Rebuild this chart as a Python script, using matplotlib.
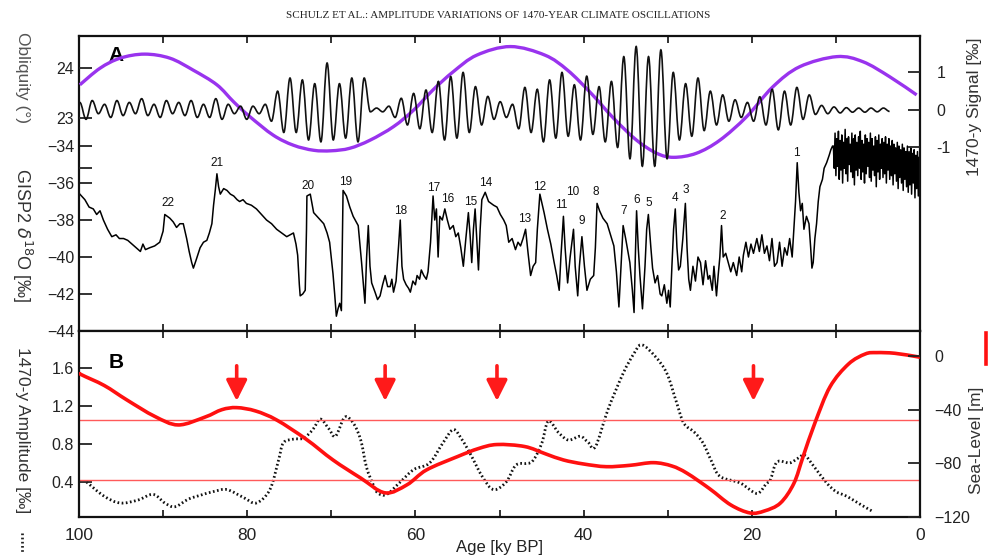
import numpy as np
import matplotlib
matplotlib.use("Agg")
import matplotlib.pyplot as plt
from matplotlib.path import Path
from matplotlib.patches import PathPatch

plt.rcParams['font.family'] = ['Liberation Sans', 'DejaVu Sans']

# ---------------- data ----------------
# Obliquity (deg)
obl_age = [99.9, 97.5, 95.1, 92.2, 89.2, 86.4, 83.6, 81.6, 79.7, 76.9, 74.5, 72.1, 70.0, 67.8,
           65.4, 62.6, 60.2, 57.9, 55.5, 52.7, 48.7, 44.6, 41.9, 39.1, 36.4, 33.7, 31.3,
           29.3, 26.6, 23.8, 20.6, 17.5, 14.3, 9.9, 6.8, 3.6, 0.4]
obl_val = [23.66, 23.99, 24.19, 24.27, 24.19, 23.95, 23.66, 23.32, 23.03, 22.66, 22.46, 22.36,
           22.35, 22.40, 22.56, 22.83, 23.16, 23.56, 23.92, 24.25, 24.42, 24.25, 23.95,
           23.49, 22.99, 22.56, 22.30, 22.22, 22.30, 22.56, 23.03, 23.62, 24.02, 24.22, 24.12,
           23.82, 23.46]

# 1470-y signal: successive extrema (permil), one every half cycle (0.735 ky) from 99.9 ky BP
sig_start = 99.9
sig_step = 0.735
sig_extrema = [
    0.2, -0.25, 0.25, -0.1, 0.15, -0.2, 0.25, -0.15, 0.2, -0.1, 0.3, -0.15, 0.15, -0.2, 0.25,
    -0.1, 0.2, -0.15, 0.25, -0.2, 0.15, -0.2, 0.3, -0.25, 0.15, -0.1, 0.1, -0.25, 0.1, -0.1, 0.15,
    -0.3, 0.5, -0.6, 0.85, -0.6, 0.8, -0.8, 0.7, -0.85, 1.25, -0.8, 0.7, -0.75, 0.85, -0.85, 0.85,
    -0.05, 0.05, -0.05, 0.1,
    -0.2, 0.31, -0.4, 0.44, -0.5, 0.53, -0.6, 0.76, -0.8, 0.89, -0.75, 1.0,
    -0.6, 0.62, -0.4, 0.36, -0.25, 0.22, -0.2, 0.15,
    -0.5, 0.6, -0.6, 0.55, -0.85, 0.8, -0.75, 1.0, -0.7, 0.67, -0.8, 0.9, -0.65, 0.62, -0.85, 0.76,
    -1.0, 1.42, -1.3, 1.69, -1.5, 1.42, -1.5, 1.6, -1.3, 1.0,
    -0.8, 0.7, -0.7, 0.85, -0.55, 0.5, -0.4, 0.4, -0.3, 0.27, -0.2, 0.2, -0.3, 0.35, -0.4, 0.55,
    -0.53, 0.5, -0.4, 0.6, -0.25, 0.4,
    -0.12, 0.12, -0.1, 0.08, -0.08, 0.06, -0.06, 0.05, -0.06, 0.05, -0.05, 0.05, -0.04]

# GISP2 d18O (permil), 100 - 10.4 ky BP
gisp_age = [99.9, 99.3, 98.8, 98.3, 97.9, 97.5, 97.1, 96.6, 96.1, 95.6, 95.2, 94.7, 94.2, 93.7, 93.2,
            92.7, 92.4, 92.1, 91.6, 91.0, 90.4, 90.0, 89.8, 89.5, 89.2, 88.8, 88.4, 88.0, 87.6, 87.4,
            87.2, 86.9, 86.6, 86.4, 86.1, 85.6, 85.2, 84.8, 84.5, 84.2, 84.0, 83.8, 83.6, 83.4, 83.2,
            82.8, 82.4, 82.0, 81.6, 81.2, 80.9, 80.5, 80.1, 79.5, 78.9, 78.3, 77.7, 77.1, 76.5, 75.9,
            75.3, 74.9, 74.5, 74.2, 74.0, 73.8, 73.7, 73.4, 73.1, 72.95, 72.9, 72.5, 72.1, 71.5, 70.9,
            70.5, 70.2, 69.8, 69.6, 69.4, 69.2, 69.0, 68.8, 68.65, 68.6, 68.2, 67.8, 67.4, 66.8, 66.4,
            66.0, 65.8, 65.6, 65.4, 65.2, 64.8, 64.5, 64.2, 63.9, 63.6, 63.3, 63.0, 62.8, 62.6, 62.3,
            62.0, 61.8, 61.6, 61.4, 61.1, 60.8, 60.6, 60.3, 60.0, 59.8, 59.5, 59.3, 59.0, 58.7, 58.5,
            58.2, 58.0, 57.9, 57.7, 57.5, 57.3, 57.1, 56.8, 56.5, 56.2, 55.9, 55.5, 55.2, 54.9, 54.6,
            54.3, 54.0, 53.7, 53.5, 53.3, 53.1, 52.9, 52.7, 52.5, 52.3, 52.1, 51.9, 51.7, 51.3, 50.7,
            50.3, 49.9, 49.5, 49.2, 48.9, 48.5, 48.1, 47.8, 47.5, 47.2, 46.9, 46.6, 46.3, 46.0, 45.7,
            45.5, 45.2, 45.0, 44.7, 44.3, 43.9, 43.5, 43.2, 42.9, 42.7, 42.4, 42.2, 41.9, 41.6, 41.2,
            41.0, 40.7, 40.5, 40.2, 39.9, 39.6, 39.2, 38.8, 38.6, 38.4, 38.1, 37.7, 37.2, 36.8, 36.4,
            36.1, 35.8, 35.5, 35.3, 35.0, 34.7, 34.5, 34.2, 34.0, 33.85, 33.7, 33.5, 33.3, 33.0, 32.7,
            32.5, 32.3, 32.0, 31.8, 31.5, 31.2, 30.9, 30.7, 30.4, 30.1, 29.9, 29.7, 29.5, 29.3, 29.1,
            28.9, 28.7, 28.5, 28.2, 27.9, 27.7, 27.5, 27.3, 27.0, 26.7, 26.4, 26.1, 25.8, 25.5, 25.2,
            25.0, 24.7, 24.5, 24.2, 24.0, 23.8, 23.6, 23.4, 23.1, 22.8, 22.5, 22.2, 21.8, 21.5, 21.2,
            21.0, 20.7, 20.4, 20.1, 19.8, 19.4, 19.1, 18.8, 18.5, 18.2, 17.9, 17.6, 17.3, 17.0, 16.7,
            16.4, 16.1, 15.8, 15.5, 15.2, 15.0, 14.8, 14.6, 14.4, 14.2, 14.0, 13.8, 13.5, 13.2, 13.0,
            12.85, 12.7, 12.5, 12.3, 12.1, 11.9, 11.6, 11.4, 11.1, 10.8, 10.6, 10.4]
gisp_val = [-36.6, -36.9, -37.3, -37.4, -37.7, -37.5, -38.0, -38.5, -38.9, -38.8, -39.0, -39.0, -39.1,
            -39.3, -39.5, -39.7, -39.3, -39.6, -39.5, -39.4, -39.2, -38.6, -37.7, -37.8, -37.9, -38.1,
            -38.4, -38.2, -38.2, -38.6, -39.0, -39.7, -40.3, -40.6, -40.2, -39.5, -39.2, -39.1, -38.7,
            -38.2, -37.2, -36.4, -35.5, -36.2, -36.6, -36.3, -36.4, -36.6, -36.7, -36.9, -37.0, -36.9,
            -37.1, -37.2, -37.4, -37.7, -38.0, -38.2, -38.5, -38.7, -38.9, -38.8, -38.7, -39.3, -39.9,
            -41.5, -42.1, -42.0, -41.8, -38.5, -36.7, -36.6, -37.6, -37.9, -38.2, -38.7, -39.2, -40.9,
            -42.0, -43.2, -42.8, -42.5, -42.9, -38.0, -36.4, -36.7, -37.3, -37.8, -38.3, -40.3, -42.5,
            -40.0, -38.3, -40.5, -41.4, -41.9, -42.3, -42.1, -41.5, -41.0, -41.6, -41.6, -41.2, -41.9,
            -41.3, -39.4, -38.0, -40.5, -41.2, -41.5, -41.7, -41.9, -41.3, -41.5, -41.0, -41.2, -40.7,
            -41.0, -41.2, -40.8, -39.2, -37.5, -36.7, -38.0, -37.4, -40.0, -37.8, -38.0, -37.4, -38.0,
            -38.5, -38.3, -38.9, -38.7, -39.5, -40.5, -39.0, -37.6, -38.8, -40.3, -38.5, -37.4, -39.0,
            -40.7, -38.5, -36.9, -36.7, -36.5, -37.0, -37.2, -37.3, -37.7, -38.0, -38.3, -39.2, -39.0,
            -39.6, -39.2, -39.4, -39.0, -38.5, -39.8, -41.0, -40.5, -40.3, -38.5, -36.6, -37.0, -37.6,
            -38.5, -39.3, -40.3, -41.0, -41.8, -40.0, -37.8, -39.5, -41.4, -40.0, -38.5, -40.5, -42.1,
            -40.5, -38.9, -40.5, -41.8, -41.2, -41.0, -39.5, -37.1, -37.5, -37.9, -38.2, -38.8, -39.4,
            -40.8, -42.7, -40.0, -38.3, -39.0, -39.8, -40.3, -41.8, -43.0, -40.0, -37.5, -39.5, -41.0,
            -42.8, -40.5, -38.5, -37.7, -39.5, -40.6, -41.4, -41.0, -42.0, -42.1, -41.5, -42.5, -41.8,
            -42.7, -40.5, -38.5, -37.4, -39.5, -40.7, -40.5, -39.0, -37.1, -39.5, -41.2, -41.8, -40.5,
            -41.3, -40.0, -40.3, -41.5, -40.2, -41.2, -41.0, -41.8, -40.5, -42.1, -41.0, -40.0, -38.3,
            -40.0, -39.8, -40.3, -40.8, -40.3, -41.0, -40.0, -40.8, -39.9, -39.2, -40.0, -39.3, -39.8,
            -39.0, -39.7, -38.8, -39.8, -39.4, -40.2, -39.0, -40.5, -40.3, -39.2, -40.5, -39.5, -39.9,
            -39.0, -40.0, -38.5, -37.0, -34.9, -36.5, -37.5, -37.1, -38.5, -37.8, -38.2, -39.5, -40.6,
            -40.3, -39.0, -38.2, -37.0, -36.2, -35.8, -35.2, -34.9, -34.5, -34.2, -34.0]

# GISP2 Holocene part: one value every 0.1 ky from 10.3 ky BP to 0
holo_start = 10.3
holo_step = 0.1
holo_val = [-34.0, -35.2, -33.3, -35.6, -33.6, -35.1, -33.2, -35.8, -33.7, -35.3,
            -33.4, -36.0, -33.8, -35.2, -33.1, -35.5, -33.6, -35.9, -33.5, -35.0,
            -33.9, -35.4, -33.3, -35.7, -33.6, -36.1, -33.4, -35.3, -33.8, -35.6,
            -33.5, -35.2, -33.2, -35.8, -33.7, -35.4, -33.9, -36.0, -33.4, -35.5,
            -33.6, -35.1, -33.8, -35.7, -33.3, -35.9, -33.6, -35.3, -34.0, -35.6,
            -33.5, -36.2, -33.7, -35.4, -33.4, -35.8, -33.9, -35.2, -33.6, -35.7,
            -33.8, -35.5, -33.5, -36.0, -33.9, -35.3, -33.6, -35.8, -34.0, -35.6,
            -33.7, -36.1, -33.9, -35.5, -34.1, -35.9, -33.8, -36.3, -34.0, -35.7,
            -34.2, -36.0, -33.9, -36.4, -34.1, -35.8, -34.3, -36.2, -34.0, -36.5,
            -34.3, -36.1, -34.1, -36.6, -34.4, -36.0, -34.2, -36.8, -34.5, -36.3,
            -34.3, -36.7, -34.6, -36.2]

# Interstadial numbers
is_labels = ['22', '21', '20', '19', '18', '17', '16', '15', '14', '13', '12', '11', '10', '9',
             '8', '7', '6', '5', '4', '3', '2', '1']
is_age = [89.4, 83.6, 72.8, 68.25, 61.7, 57.8, 56.2, 53.4, 51.6, 47.0, 45.2, 42.7, 41.3, 40.2,
          38.5, 35.2, 33.65, 32.2, 29.1, 27.8, 23.5, 14.7]
is_val = [-37.08, -34.92, -36.16, -35.95, -37.5, -36.27, -36.86, -37.03, -36.0, -37.95, -36.2,
          -37.2, -36.5, -38.05, -36.5, -37.5, -36.9, -37.1, -36.8, -36.4, -37.8, -34.4]

# Panel B: 1470-y amplitude (dotted) and sea level (red)
amp_age = [99.1, 97.0, 95.1, 93.0, 91.2, 89.8, 88.6, 87.0, 85.6, 84.0, 82.4, 80.5, 78.9, 77.3,
           76.3, 75.7, 74.5, 73.3, 72.2, 71.3, 70.3, 69.5, 68.4, 67.4, 66.5, 65.8, 64.9, 64.4,
           63.4, 61.8, 60.2, 58.3, 56.8, 55.5, 54.5, 53.5, 52.0, 50.7, 49.2, 48.0, 46.2, 45.0,
           44.2, 43.0, 41.8, 40.4, 39.5, 38.6, 37.1, 35.3, 34.0, 33.1, 31.5, 30.1, 29.0, 28.1,
           26.8, 25.8, 24.8, 23.8, 21.4, 19.4, 18.3, 17.8, 17.0, 15.5, 14.5, 13.7, 12.5, 11.1,
           10.0, 8.7, 7.0, 5.6]
amp_val = [0.40, 0.25, 0.18, 0.21, 0.27, 0.18, 0.14, 0.22, 0.26, 0.30, 0.32, 0.24, 0.18, 0.32,
           0.62, 0.81, 0.85, 0.86, 0.95, 1.06, 0.96, 0.88, 1.08, 1.02, 0.84, 0.55, 0.35, 0.28,
           0.27, 0.40, 0.53, 0.60, 0.80, 0.95, 0.85, 0.70, 0.45, 0.32, 0.40, 0.58, 0.61, 0.80,
           1.04, 0.92, 0.84, 0.88, 0.82, 0.77, 1.16, 1.54, 1.75, 1.84, 1.72, 1.54, 1.25, 1.02,
           0.92, 0.81, 0.62, 0.46, 0.39, 0.28, 0.38, 0.42, 0.61, 0.60, 0.65, 0.68, 0.55, 0.39,
           0.30, 0.25, 0.16, 0.09]
sl_age = [100.0, 99.7, 97.0, 94.3, 91.0, 88.2, 85.0, 83.0, 81.25, 79.0, 76.5, 73.0, 69.8, 66.5,
          63.6, 61.0, 58.7, 55.0, 52.5, 50.3, 47.0, 44.5, 42.4, 40.0, 37.3, 34.5, 31.7, 29.5,
          27.7, 25.0, 22.5, 20.2, 18.5, 16.6, 15.0, 13.9, 12.5, 10.7, 8.5, 6.5, 5.15, 3.0, 0.4, 0.0]
sl_val = [-12.0, -14.0, -22.0, -32.8, -45.0, -51.4, -45.5, -40.0, -38.5, -41.0, -47.7, -62.0,
          -77.5, -91.0, -102.0, -96.0, -85.0, -75.0, -69.0, -66.0, -67.5, -73.0, -77.5, -80.5,
          -82.5, -81.5, -79.5, -82.0, -87.4, -99.0, -111.0, -117.0, -115.5, -109.6, -95.0, -75.0,
          -50.0, -23.0, -6.0, 1.5, 2.5, 2.0, -0.5, -1.0]
ref_amp = [1.05, 0.42]
arrow_age = [81.25, 63.6, 50.3, 19.8]


# ---------------- drawing helpers (smooth Bezier paths through the given points) ----------------
def smooth_path(x, y):
    p = np.column_stack([x, y]).astype(float)
    n = len(p)
    verts = [p[0]]
    codes = [Path.MOVETO]
    for i in range(n - 1):
        p0 = p[max(i - 1, 0)]
        p1 = p[i]
        p2 = p[i + 1]
        p3 = p[min(i + 2, n - 1)]
        verts += [p1 + (p2 - p0) / 6.0, p2 - (p3 - p1) / 6.0, p2]
        codes += [Path.CURVE4] * 3
    return Path(verts, codes)


def wave_path(x, y):
    # extrema joined with horizontal tangents (rounded oscillation)
    p = np.column_stack([x, y]).astype(float)
    verts = [p[0]]
    codes = [Path.MOVETO]
    for i in range(len(p) - 1):
        dx = p[i + 1][0] - p[i][0]
        verts += [(p[i][0] + 0.36 * dx, p[i][1]), (p[i + 1][0] - 0.36 * dx, p[i + 1][1]), p[i + 1]]
        codes += [Path.CURVE4] * 3
    return Path(verts, codes)


# ---------------- figure ----------------
W, H = 992, 556
fig = plt.figure(figsize=(W / 100, H / 100), dpi=100)


def fx(px):
    return px / W


def fy(py):
    return 1 - py / H


L, R = 79, 920
axA = fig.add_axes([fx(L), fy(331), fx(R) - fx(L), fy(36) - fy(331)])
axB = fig.add_axes([fx(L), fy(517), fx(R) - fx(L), fy(331) - fy(517)])

tick_col = '#222222'
for ax in (axA, axB):
    ax.set_xlim(100, 0)
    for s in ax.spines.values():
        s.set_linewidth(1.6)
        s.set_color('#111111')
    ax.set_xticks(np.arange(100, -1, -10))
    ax.tick_params(axis='x', direction='in', top=True, bottom=True, length=5, width=1.3,
                   labelsize=12.5, colors=tick_col, pad=8)
    ax.tick_params(axis='y', direction='in', length=9, width=1.3, labelsize=11.5,
                   colors=tick_col)

axA.set_xticklabels([])
axB.set_xticklabels(['100', '', '80', '', '60', '', '40', '', '20', '', '0'])

# Panel A: GISP2 (left lower scale)
axA.set_ylim(-44, -28.05)
axA.set_yticks([-34, -36, -38, -40, -42, -44])
holo_age = holo_start - holo_step * np.arange(len(holo_val))
axA.plot(list(gisp_age) + list(holo_age), list(gisp_val) + list(holo_val),
         color='black', lw=1.1)
for lab, a, v in zip(is_labels, is_age, is_val):
    axA.text(a, v, lab, fontsize=8.5, ha='center', va='center', color='#111111')

# Obliquity (left upper scale)
axO = axA.twinx()
axO.set_ylim(18.77, 24.63)
axO.yaxis.tick_left()
axO.set_yticks([24, 23, 22])
axO.set_yticklabels(['24', '23', ''])
axO.tick_params(axis='y', direction='in', length=9, width=1.3, labelsize=11.5, colors=tick_col)
axO.set_xlim(100, 0)
for s in axO.spines.values():
    s.set_visible(False)

# 1470-y signal (right scale)
axS = axA.twinx()
axS.set_ylim(-5.89, 1.97)
axS.set_yticks([1, 0, -1])
axS.set_yticklabels(['1', '0', '-1'])
axS.tick_params(axis='y', direction='in', length=9, width=1.3, labelsize=11.5, colors=tick_col,
                pad=12)
for s in axS.spines.values():
    s.set_visible(False)
axS.set_xlim(100, 0)
sig_age = sig_start - sig_step * np.arange(len(sig_extrema))
axS.add_patch(PathPatch(wave_path(sig_age, sig_extrema), fill=False, edgecolor='#111111',
                        lw=1.2, zorder=2))
axO.add_patch(PathPatch(smooth_path(obl_age, obl_val), fill=False, edgecolor='#9933ee',
                        lw=2.4, zorder=3))

axA.text(0.035, 0.915, 'A', transform=axA.transAxes, fontsize=15, fontweight='bold')

# Panel B
axB.set_ylim(0.0326, 1.985)
axB.set_yticks([0.4, 0.8, 1.2, 1.6])
axB.set_yticklabels(['0.4', '0.8', '1.2', '1.6'])
for r in ref_amp:
    axB.axhline(r, color='#ff5a5a', lw=1.0)
axB.add_patch(PathPatch(smooth_path(amp_age, amp_val), fill=False, edgecolor='#111111',
                        lw=2.0, linestyle=(0, (0.6, 0.9))))
for a in arrow_age:
    axB.annotate('', xy=(a, 1.25), xytext=(a, 1.62),
                 arrowprops=dict(arrowstyle='-|>,head_width=0.45,head_length=0.9',
                                 color='#ff1a1a', lw=2.6, mutation_scale=14,
                                 shrinkA=0, shrinkB=0))
axB.text(0.035, 0.8, 'B', transform=axB.transAxes, fontsize=15, fontweight='bold')

axSL = axB.twinx()
axSL.set_ylim(-120, 18.6)
axSL.set_yticks([0, -40, -80, -120])
axSL.tick_params(axis='y', direction='in', length=9, width=1.3, labelsize=11.5, colors=tick_col,
                 pad=10)
for s in axSL.spines.values():
    s.set_visible(False)
axSL.set_xlim(100, 0)
axSL.add_patch(PathPatch(smooth_path(sl_age, sl_val), fill=False, edgecolor='#ff1010', lw=2.6))

axB.set_xlabel('Age [ky BP]', fontsize=12, color=tick_col, labelpad=-2)

# Axis titles
lab_col = '#333333'
fig.text(fx(22), fy(77), 'Obliquity (°)', rotation=270, ha='center', va='center',
         fontsize=12.5, color='#555555')
fig.text(fx(22), fy(235), r'GISP2 $\delta^{18}$O [‰]', rotation=270, ha='center', va='center',
         fontsize=13, color=lab_col)
fig.text(fx(22), fy(430), '1470-y Amplitude [‰]', rotation=270, ha='center', va='center',
         fontsize=12.5, color=lab_col)
fig.lines.append(plt.Line2D([fx(22), fx(22)], [fy(533), fy(552)], transform=fig.transFigure,
                            color='#222222', lw=2, linestyle=(0, (0.6, 0.9))))
fig.text(fx(975), fy(107), '1470-y Signal [‰]', rotation=90, ha='center', va='center',
         fontsize=12.5, color=lab_col)
fig.text(fx(977), fy(440), 'Sea-Level [m]', rotation=90, ha='center', va='center',
         fontsize=12.5, color=lab_col)
fig.lines.append(plt.Line2D([fx(986), fx(986)], [fy(333), fy(364)], transform=fig.transFigure,
                            color='#ff1010', lw=2.6))

fig.text(fx(498), fy(15), 'SCHULZ ET AL.: AMPLITUDE VARIATIONS OF 1470-YEAR CLIMATE OSCILLATIONS',
         ha='center', va='center', fontsize=8, family=['Liberation Serif', 'DejaVu Serif'],
         color='#222222')

fig.savefig('out.png', dpi=100)
